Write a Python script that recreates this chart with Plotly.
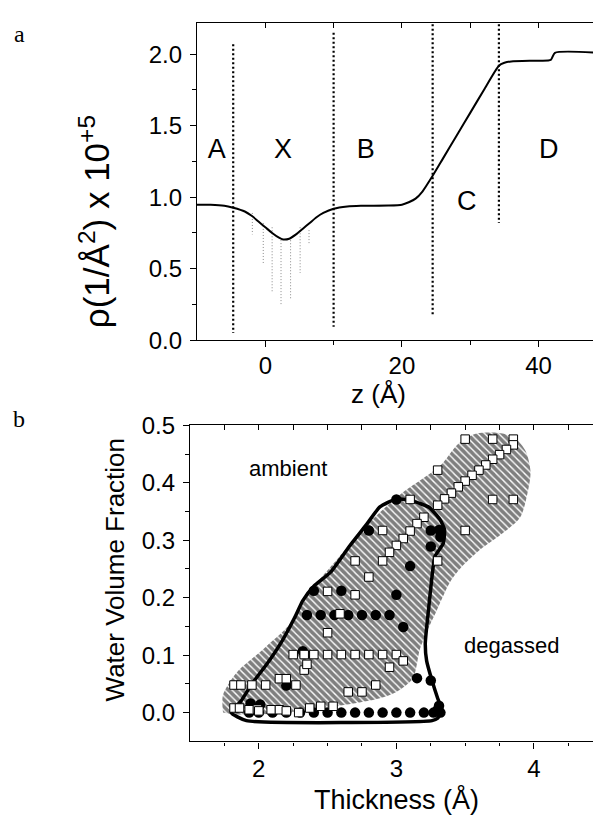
import plotly.graph_objects as go

# ---------------- Panel a : density profile ----------------
z_profile = [-10, -8, -6, -4.7, -3, -2, -1, 0, 1, 2, 2.6, 3.5, 4.5, 5.5, 6.5, 7.5, 8.5, 10,
             12, 14, 18, 20, 21, 22, 23, 24.5, 26, 28, 30, 32, 34.2, 35, 36, 40, 41.8, 42.4, 49]
rho_profile = [0.948, 0.947, 0.94, 0.926, 0.90, 0.87, 0.83, 0.79, 0.75, 0.717, 0.705, 0.71,
               0.74, 0.78, 0.82, 0.86, 0.89, 0.919, 0.935, 0.94, 0.942, 0.948, 0.965, 0.99,
               1.04, 1.15, 1.27, 1.43, 1.59, 1.75, 1.92, 1.94, 1.95, 1.955, 1.96, 2.01, 2.01]

region_z = [-4.7, 10.0, 24.5, 34.2]
region_top = [2.07, 2.15, 2.21, 2.21]
region_bottom = [0.05, 0.095, 0.18, 0.82]

region_labels = ["A", "X", "B", "C", "D"]
label_z = [-7.1, 2.6, 14.7, 29.5, 41.5]
label_rho = [1.32, 1.32, 1.32, 0.96, 1.32]

err_z = [-1.9, -0.3, 1.0, 2.3, 3.7, 5.1, 6.4]
err_top = [0.89, 0.82, 0.79, 0.70, 0.72, 0.79, 0.77]
err_bottom = [0.74, 0.54, 0.34, 0.25, 0.28, 0.47, 0.67]

# ---------------- Panel b : water volume fraction ----------------
ambient_region_x = [1.74, 1.74, 1.84, 2.03, 2.23, 2.39, 2.57, 2.80, 3.03, 3.32, 3.45, 3.57, 3.74,
                    3.86, 3.94, 3.975, 3.96, 3.90, 3.76, 3.61, 3.48, 3.39, 3.29, 3.22, 3.17, 3.12,
                    3.0, 2.88, 2.64, 2.30, 2.0, 1.80]
ambient_region_y = [0.0, 0.031, 0.07, 0.11, 0.155, 0.216, 0.267, 0.33, 0.38, 0.43, 0.468, 0.485,
                    0.487, 0.478, 0.455, 0.42, 0.39, 0.34, 0.31, 0.284, 0.255, 0.227, 0.176, 0.14,
                    0.11, 0.06, 0.036, 0.025, 0.014, 0.003, -0.003, -0.003]

degassed_region_x = [1.80, 1.87, 1.95, 2.06, 2.17, 2.26, 2.32, 2.40, 2.52, 2.66, 2.785, 2.88, 3.0,
                     3.12, 3.24, 3.32, 3.35, 3.34, 3.28, 3.26, 3.23, 3.21, 3.22, 3.26, 3.30, 3.33,
                     3.30, 3.26, 1.91, 1.80]
degassed_region_y = [0.0, 0.02, 0.05, 0.085, 0.125, 0.165, 0.195, 0.22, 0.244, 0.29, 0.328, 0.358,
                     0.372, 0.368, 0.357, 0.335, 0.318, 0.294, 0.272, 0.239, 0.171, 0.12, 0.09,
                     0.055, 0.025, 0.005, -0.01, -0.014, -0.014, 0.0]

degassed_x = [1.93, 2.0, 2.1, 2.2, 2.3, 2.4, 2.5, 2.6, 2.7, 2.8, 2.9, 3.0, 3.1, 3.2, 3.27, 3.32,
              1.94, 2.01, 3.31, 3.30,
              3.0, 2.80, 3.25, 3.31, 3.32, 3.25, 3.10, 2.40, 2.60, 3.0,
              2.35, 2.45, 2.55, 2.65, 2.75, 2.85, 2.95,
              3.05, 2.32, 2.20, 3.15, 3.25]
degassed_y = [0.0, 0.0, 0.0, 0.0, 0.0, 0.0, 0.0, 0.0, 0.0, 0.0, 0.0, 0.0, 0.0, 0.0, 0.0, 0.0,
              0.016, 0.014, 0.012, 0.005,
              0.371, 0.317, 0.317, 0.318, 0.306, 0.289, 0.255, 0.212, 0.212, 0.205,
              0.17, 0.17, 0.17, 0.17, 0.17, 0.17, 0.17,
              0.149, 0.107, 0.047, 0.06, 0.056]

ambient_x = [3.50, 3.70, 3.85, 3.85, 3.80, 3.75, 3.70, 3.65, 3.60, 3.55, 3.50, 3.45, 3.40, 3.35,
             3.30, 3.30, 3.70, 3.85, 3.50, 3.30, 3.10, 3.20, 3.15, 3.10, 3.05, 3.0, 2.95, 2.90,
             2.90, 2.80, 2.70, 2.70, 2.50, 2.59, 2.50,
             2.25, 2.33, 2.40, 2.50, 2.60, 2.70, 2.80, 2.90, 3.0,
             3.05, 2.95, 2.33, 2.35,
             1.82, 1.87, 1.95, 2.05, 2.27, 2.15, 2.20, 2.65, 2.75, 2.85,
             1.82, 1.86, 1.93, 1.99, 2.0, 2.09, 2.15, 2.2, 2.29, 2.37, 2.45, 2.54]
ambient_y = [0.476, 0.476, 0.476, 0.466, 0.458, 0.449, 0.441, 0.431, 0.422, 0.413, 0.403, 0.393,
             0.382, 0.372, 0.361, 0.422, 0.371, 0.371, 0.317, 0.264, 0.371, 0.34, 0.329, 0.316,
             0.303, 0.291, 0.279, 0.317, 0.264, 0.236, 0.264, 0.205, 0.211, 0.172, 0.139,
             0.101, 0.101, 0.101, 0.101, 0.101, 0.101, 0.101, 0.101, 0.101,
             0.09, 0.079, 0.074, 0.084,
             0.048, 0.048, 0.048, 0.048, 0.048, 0.059, 0.059, 0.036, 0.036, 0.048,
             0.008, 0.008, 0.005, 0.006, 0.003, 0.005, 0.005, 0.003, 0.0, 0.008, 0.011, 0.011]

FONT = "Liberation Sans, Arial, sans-serif"

# The page body has an 8 px margin: the figure is 593x824 and sits at (8, 8) in the window.
PAGE_OFF = 8
FIG_W, FIG_H = 601 - PAGE_OFF, 832 - PAGE_OFF


def fx(px):
    return (px - PAGE_OFF) / FIG_W


def fy(py):
    return 1 - (py - PAGE_OFF) / FIG_H


fig = go.Figure()

# --- panel a traces ---
ex, ey = [], []
for zz, t, b in zip(err_z, err_top, err_bottom):
    ex += [zz, zz, None]
    ey += [t, b, None]
fig.add_trace(go.Scatter(x=ex, y=ey, mode="lines", xaxis="x", yaxis="y",
                         line=dict(color="#8a8a8a", width=1, dash="1px,2px"),
                         hoverinfo="skip", showlegend=False))

rx, ry = [], []
for zz, t, b in zip(region_z, region_top, region_bottom):
    rx += [zz, zz, None]
    ry += [t, b, None]
fig.add_trace(go.Scatter(x=rx, y=ry, mode="lines", xaxis="x", yaxis="y",
                         line=dict(color="black", width=2.2, dash="2px,2.5px"),
                         hoverinfo="skip", showlegend=False))

fig.add_trace(go.Scatter(x=z_profile, y=rho_profile, mode="lines", xaxis="x", yaxis="y",
                         line=dict(color="black", width=2, shape="spline", smoothing=0.6),
                         showlegend=False))

fig.add_trace(go.Scatter(x=label_z, y=label_rho, mode="text", text=region_labels,
                         textfont=dict(family=FONT, size=27, color="black"),
                         xaxis="x", yaxis="y", showlegend=False))

# --- panel b traces ---
fig.add_trace(go.Scatter(x=ambient_region_x, y=ambient_region_y, mode="lines", fill="toself",
                         xaxis="x2", yaxis="y2",
                         line=dict(color="rgba(0,0,0,0)", width=0, shape="spline", smoothing=0.8),
                         fillcolor="white",
                         fillpattern=dict(shape="\\", fgcolor="black", bgcolor="white",
                                          size=5, solidity=0.72),
                         hoverinfo="skip", showlegend=False))

fig.add_trace(go.Scatter(x=degassed_region_x, y=degassed_region_y, mode="lines",
                         xaxis="x2", yaxis="y2",
                         line=dict(color="black", width=3.5, shape="spline", smoothing=0.5),
                         hoverinfo="skip", showlegend=False))

fig.add_trace(go.Scatter(x=degassed_x, y=degassed_y, mode="markers", xaxis="x2", yaxis="y2",
                         marker=dict(symbol="circle", size=10.5, color="black",
                                     line=dict(color="black", width=0)),
                         showlegend=False))
fig.add_trace(go.Scatter(x=ambient_x, y=ambient_y, mode="markers", xaxis="x2", yaxis="y2",
                         marker=dict(symbol="square", size=8.5, color="white",
                                     line=dict(color="black", width=1)),
                         showlegend=False))

# transparent copies so that the secondary axes (inside ticks on top/right) get drawn
fig.add_trace(go.Scatter(x=z_profile, y=rho_profile, mode="lines", xaxis="x3", yaxis="y",
                         opacity=0, line=dict(width=0.1), hoverinfo="skip", showlegend=False))
fig.add_trace(go.Scatter(x=z_profile, y=rho_profile, mode="lines", xaxis="x", yaxis="y3",
                         opacity=0, line=dict(width=0.1), hoverinfo="skip", showlegend=False))
fig.add_trace(go.Scatter(x=ambient_x, y=ambient_y, mode="lines", xaxis="x4", yaxis="y2",
                         opacity=0, line=dict(width=0.1), hoverinfo="skip", showlegend=False))
fig.add_trace(go.Scatter(x=ambient_x, y=ambient_y, mode="lines", xaxis="x2", yaxis="y4",
                         opacity=0, line=dict(width=0.1), hoverinfo="skip", showlegend=False))

axis_common = dict(showgrid=False, zeroline=False, linecolor="black", linewidth=1.4,
                   tickcolor="black", tickwidth=1.3, color="black",
                   tickfont=dict(family=FONT, size=24, color="black"))

# panel a axes (page pixels: left 197, right 600, top 8.5, bottom 337)
fig.update_layout(
    xaxis=dict(domain=[fx(197), fx(600)], anchor="y", range=[-10, 49], tickvals=[0, 20, 40],
               ticks="outside", ticklen=6, showline=True, mirror=True, ticklabelstandoff=-2,
               minor=dict(tickvals=[10, 30], ticks="outside", ticklen=3.5,
                          tickcolor="black", tickwidth=1.3),
               **axis_common),
    yaxis=dict(domain=[fy(337), fy(8.8)], anchor="x", range=[0, 2.22],
               tickvals=[0, 0.5, 1.0, 1.5, 2.0], ticktext=["0.0", "0.5", "1.0", "1.5", "2.0"],
               ticks="outside", ticklen=6, showline=True, mirror=True, ticklabelstandoff=3,
               minor=dict(tickvals=[0.25, 0.75, 1.25, 1.75], ticks="outside", ticklen=3.5,
                          tickcolor="black", tickwidth=1.3),
               **axis_common),
    xaxis3=dict(overlaying="x", side="top", anchor="y", range=[-10, 49],
                tickvals=[0, 10, 20, 30, 40], ticks="inside", ticklen=5,
                showticklabels=False, showline=False, **axis_common),
    yaxis3=dict(overlaying="y", side="right", anchor="x", range=[0, 2.22],
                tickvals=[0.25, 0.5, 0.75, 1.0, 1.25, 1.5, 1.75, 2.0], ticks="inside", ticklen=5,
                showticklabels=False, showline=False, **axis_common),
)

# panel b axes (page pixels: left 190, right 600, top 425, bottom 751.7)
fig.update_layout(
    xaxis2=dict(domain=[fx(190), fx(600)], anchor="y2", range=[1.5, 4.48], tickvals=[2, 3, 4],
                ticks="outside", ticklen=6, showline=True, mirror=True,
                minor=dict(tickvals=[1.75, 2.25, 2.5, 2.75, 3.25, 3.5, 3.75, 4.25],
                           ticks="outside", ticklen=3.5, tickcolor="black", tickwidth=1.3),
                **axis_common),
    yaxis2=dict(domain=[fy(751.7), fy(425)], anchor="x2", range=[-0.05, 0.5],
                tickvals=[0, 0.1, 0.2, 0.3, 0.4, 0.5],
                ticktext=["0.0", "0.1", "0.2", "0.3", "0.4", "0.5"],
                ticks="outside", ticklen=6, showline=True, mirror=True, ticklabelstandoff=3,
                minor=dict(tickvals=[0.05, 0.15, 0.25, 0.35, 0.45], ticks="outside",
                           ticklen=3.5, tickcolor="black", tickwidth=1.3),
                **axis_common),
    xaxis4=dict(overlaying="x2", side="top", anchor="y2", range=[1.5, 4.48],
                tickvals=[1.75, 2, 2.25, 2.5, 2.75, 3, 3.25, 3.5, 3.75, 4, 4.25],
                ticks="inside", ticklen=5, showticklabels=False, showline=False, **axis_common),
    yaxis4=dict(overlaying="y2", side="right", anchor="x2", range=[-0.05, 0.5],
                tickvals=[0, 0.05, 0.1, 0.15, 0.2, 0.25, 0.3, 0.35, 0.4, 0.45],
                ticks="inside", ticklen=5, showticklabels=False, showline=False, **axis_common),
)

ann = [
    dict(text="a", x=19, y=20, font=dict(family="Liberation Serif, serif", size=24)),
    dict(text="b", x=19, y=418, font=dict(family="Liberation Serif, serif", size=24)),
    dict(text="ρ(1/Å<sup>2</sup>) x 10<sup>+5</sup>", x=95, y=215, textangle=-90,
         font=dict(family=FONT, size=35)),
    dict(text="z (Å)", x=378, y=393, font=dict(family=FONT, size=26)),
    dict(text="Water Volume Fraction", x=115, y=575, textangle=-90,
         font=dict(family=FONT, size=26)),
    dict(text="Thickness (Å)", x=396, y=812, font=dict(family=FONT, size=27)),
]
annotations = []
for a in ann:
    d = dict(xref="paper", yref="paper", x=fx(a["x"]), y=fy(a["y"]),
             xanchor="center", yanchor="middle", showarrow=False, text=a["text"],
             font=dict(color="black", **a["font"]))
    if "textangle" in a:
        d["textangle"] = a["textangle"]
    annotations.append(d)

annotations.append(dict(xref="x2", yref="y2", x=2.21, y=0.424, text="ambient", showarrow=False,
                        font=dict(family=FONT, size=22, color="black")))
annotations.append(dict(xref="x2", yref="y2", x=3.84, y=0.116, text="degassed", showarrow=False,
                        font=dict(family=FONT, size=22, color="black")))

fig.update_layout(width=FIG_W, height=FIG_H, margin=dict(l=0, r=0, t=0, b=0),
                  paper_bgcolor="white", plot_bgcolor="white",
                  annotations=annotations, showlegend=False)

fig.write_html("out.html")
